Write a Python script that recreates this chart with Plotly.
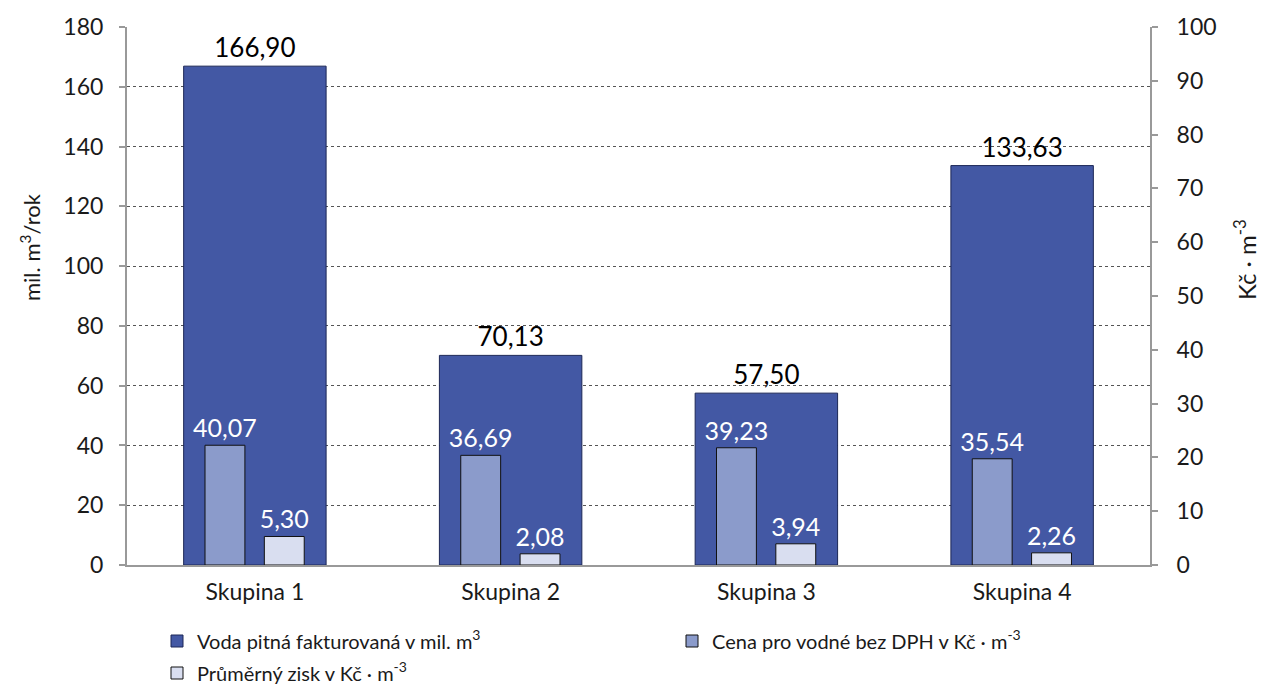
import plotly.graph_objects as go

categories = ["Skupina 1", "Skupina 2", "Skupina 3", "Skupina 4"]
voda = [166.90, 70.13, 57.50, 133.63]
cena = [40.07, 36.69, 39.23, 35.54]
zisk = [5.30, 2.08, 3.94, 2.26]

left_ticks = [0, 20, 40, 60, 80, 100, 120, 140, 160, 180]
right_ticks = [0, 10, 20, 30, 40, 50, 60, 70, 80, 90, 100]


def fmt(v):
    return f"{v:.2f}".replace(".", ",")


FONT = "Lato, 'Open Sans', sans-serif"
TXT = "#1a1a1a"

fig = go.Figure()
fig.add_trace(go.Bar(
    x=categories, y=voda, name="Voda pitná fakturovaná v mil. m<sup>3</sup>",
    width=0.557, marker=dict(color="#4358a4", line=dict(color="#1c2756", width=1)),
    text=[fmt(v) for v in voda], textposition="outside", constraintext="none",
    outsidetextfont=dict(color="#000000", size=26, family=FONT), cliponaxis=False,
    legend="legend", yaxis="y", showlegend=True,
))
fig.add_trace(go.Bar(
    x=categories, y=cena, name="Cena pro vodné bez DPH v Kč · m<sup>-3</sup>",
    width=0.156, offset=-0.195,
    marker=dict(color="#8b9bcb", line=dict(color="#111111", width=1)),
    text=[fmt(v) for v in cena], textposition="outside", constraintext="none",
    outsidetextfont=dict(color="#ffffff", size=25, family=FONT), cliponaxis=False,
    legend="legend2", yaxis="y", showlegend=True,
))
fig.add_trace(go.Bar(
    x=categories, y=zisk, name="Průměrný zisk v Kč · m<sup>-3</sup>",
    width=0.156, offset=0.037,
    marker=dict(color="#d9def0", line=dict(color="#111111", width=1)),
    text=[fmt(v) for v in zisk], textposition="outside", constraintext="none",
    outsidetextfont=dict(color="#ffffff", size=25, family=FONT), cliponaxis=False,
    legend="legend3", yaxis="y2", showlegend=True,
))

L, R, T, B = 127, 112, 27, 122
W, H = 1262, 687
pw = W - L - R
ph = H - T - B


def px_x(x):
    return (x - L) / pw


def px_y(y):
    return (H - B - y) / ph


def leg(xp, yp):
    return dict(
        orientation="v", x=px_x(xp), xanchor="left", y=px_y(yp), yanchor="middle",
        font=dict(size=20, color=TXT, family=FONT), bgcolor="rgba(0,0,0,0)",
    )


fig.update_layout(
    width=W, height=H, showlegend=True,
    margin=dict(l=L, r=R, t=T, b=B, pad=0, autoexpand=False),
    paper_bgcolor="white", plot_bgcolor="white",
    barmode="overlay",
    font=dict(family=FONT, color=TXT, size=20),
    xaxis=dict(
        type="category", showline=True, linecolor="#999999", linewidth=2,
        ticks="", tickfont=dict(size=23, color=TXT), ticklabelstandoff=5,
        showgrid=False, mirror=False,
    ),
    yaxis=dict(
        range=[0, 180], tickvals=left_ticks, ticktext=[str(v) for v in left_ticks],
        showline=True, linecolor="#999999", linewidth=2,
        ticks="outside", ticklen=6, tickwidth=2, tickcolor="#999999",
        tickfont=dict(size=23, color=TXT), ticklabelstandoff=11,
        showgrid=True, gridcolor="#555555", gridwidth=1, griddash="dot",
        zeroline=False,
    ),
    yaxis2=dict(
        range=[0, 100], tickvals=right_ticks, ticktext=[str(v) for v in right_ticks],
        overlaying="y", side="right",
        showline=True, linecolor="#999999", linewidth=2,
        ticks="outside", ticklen=6, tickwidth=2, tickcolor="#999999",
        tickfont=dict(size=23, color=TXT), ticklabelstandoff=14,
        showgrid=False, zeroline=False,
    ),
    legend=leg(157, 641),
    legend2=leg(672, 641),
    legend3=leg(157, 673),
    annotations=[
        dict(text="mil. m<sup>3</sup>/rok", xref="paper", yref="paper",
             x=px_x(30), y=px_y(247), xanchor="center", yanchor="middle",
             textangle=-90, showarrow=False, font=dict(size=22, color=TXT)),
        dict(text="Kč · m<sup>-3</sup>", xref="paper", yref="paper",
             x=px_x(1245), y=px_y(260), xanchor="center", yanchor="middle",
             textangle=-90, showarrow=False, font=dict(size=24, color=TXT)),
    ],
)

fig.write_html(
    "out.html",
    config={"displayModeBar": False},
    post_script="document.body.style.margin='0';document.body.style.overflow='hidden';",
)
